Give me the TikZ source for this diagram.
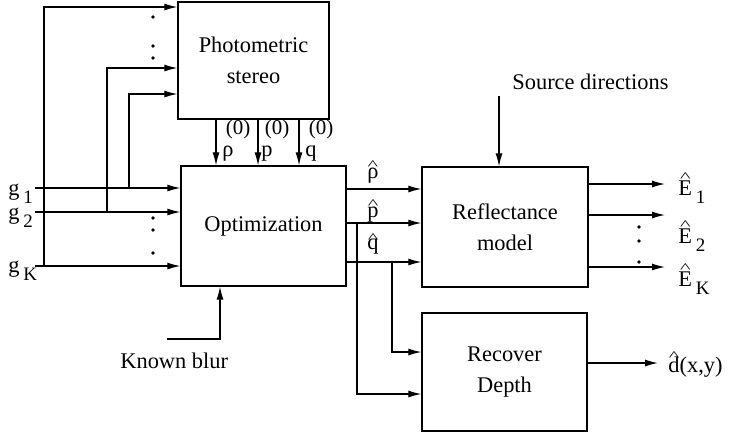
\documentclass[tikz,border=0pt]{standalone}
\usepackage{fontspec}
\setmainfont{Liberation Serif}
\usetikzlibrary{arrows.meta}

\newcommand{\hatted}[2][.4em]{{\ooalign{#2\cr\hidewidth\raisebox{#1}{\scalebox{1}[.6]{\textasciicircum}}\hidewidth\cr}}}
\newcommand{\subs}[1]{\,\raisebox{-.4em}{\fontsize{9.5}{10}\selectfont #1}}
\newcommand{\initl}[1]{\begin{tabular}[b]{@{}l@{}}{\fontsize{10.5}{11}\selectfont\,(0)}\\[-4.5pt]#1\end{tabular}}

\begin{document}
\begin{tikzpicture}[x=0.5pt,y=-0.5pt,font=\fontsize{11.2}{15.5}\selectfont,
  blk/.style={draw,line width=0.65pt,align=center,inner sep=0pt},
  arr/.style={-{Latex[length=6.5pt,width=3.5pt]},line width=0.6pt},
  lab/.style={inner sep=0pt}]
\useasboundingbox (0,0) rectangle (731,436);
\node [blk,minimum width=75.5pt,minimum height=58.5pt] (photo) at (253.5,60.5) {Photometric\\stereo};
\node [blk,minimum width=82.5pt,minimum height=60pt] (opt) at (263.5,226) {Optimization};
\node [blk,minimum width=83pt,minimum height=60pt] (refl) at (505,227) {Reflectance\\model};
\node [blk,minimum width=82.5pt,minimum height=59pt] (depth) at (504.5,372) {Recover\\Depth};
\node [lab,anchor=base west] (g1) at (8,195) {g\subs{1}};
\node [lab,anchor=base west] (g2) at (8,219) {g\subs{2}};
\node [lab,anchor=base west] (gK) at (8,272) {g\subs{K}};
\coordinate (i1) at (35,188);
\coordinate (i2) at (35,212);
\coordinate (iK) at (35,266);
\coordinate (j1) at (129,188);
\coordinate (j2) at (107,212);
\coordinate (jK) at (44,266);
\draw [arr] (i1) -- (i1 -| opt.west);
\draw [arr] (i2) -- (i2 -| opt.west);
\draw [arr] (iK) -- (iK -| opt.west);
\draw [arr] (jK) |- (photo.west |- 0,7);
\draw [arr] (j2) |- (photo.west |- 0,68);
\draw [arr] (j1) |- (photo.west |- 0,94);
\foreach \y in {17,46,58,218,230,253} \fill (153,\y) circle [radius=0.9pt];
\foreach \y in {227,241,262} \fill (639,\y) circle [radius=0.9pt];
\foreach \x in {216,258,299} \draw [arr] (photo.south -| \x,0) -- (opt.north -| \x,0);
\node [lab,anchor=base west] (rho0) at (222,156) {\initl{ρ}};
\node [lab,anchor=base west] (p0) at (261,156) {\initl{p}};
\node [lab,anchor=base west] (q0) at (305,156) {\initl{q}};
\draw [arr] (opt.east |- 0,189) -- (refl.west |- 0,189);
\draw [arr] (opt.east |- 0,223) -- (refl.west |- 0,223);
\draw [arr] (opt.east |- 0,262) -- (refl.west |- 0,262);
\coordinate (bp) at (357,223);
\coordinate (bq) at (392,262);
\draw [arr] (bp) |- (depth.west |- 0,394);
\draw [arr] (bq) |- (depth.west |- 0,352);
\node [lab,anchor=base west] (rhohat) at (367,178) {\hatted{ρ}};
\node [lab,anchor=base west] (phat) at (367,217) {\hatted{p}};
\node [lab,anchor=base west] (qhat) at (367,249) {\hatted[.27em]{q}};
\coordinate (e1) at (665,184);
\coordinate (e2) at (665,215);
\coordinate (eK) at (665,267);
\draw [arr] (refl.east |- e1) -- (e1);
\draw [arr] (refl.east |- e2) -- (e2);
\draw [arr] (refl.east |- eK) -- (eK);
\node [lab,anchor=base west] (E1) at (678,195) {\hatted[.62em]{E}\subs{1}};
\node [lab,anchor=base west] (E2) at (678,243) {\hatted[.62em]{E}\subs{2}};
\node [lab,anchor=base west] (EK) at (678,286) {\hatted[.62em]{E}\subs{K}};
\coordinate (dout) at (658,363);
\draw [arr] (depth.east |- dout) -- (dout);
\node [lab,anchor=base west] (dhat) at (668,372) {\hatted[.52em]{d}(x,y)};
\node [lab,anchor=base west] (src) at (512,89) {Source directions};
\coordinate (srcend) at (499,96);
\draw [arr] (srcend) -- (refl.north -| srcend);
\node [lab,anchor=base west] (blur) at (120,368) {Known blur};
\coordinate (kb) at (167,339);
\draw [arr] (kb) -| (opt.south -| 220,0);
\end{tikzpicture}
\end{document}
